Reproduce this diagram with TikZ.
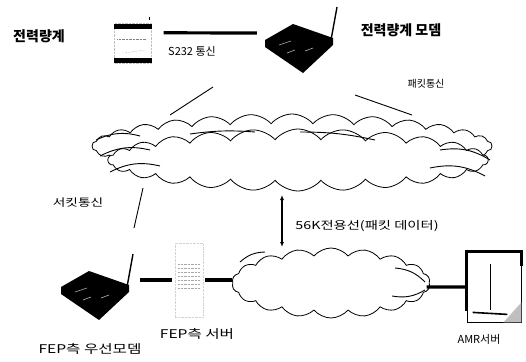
\documentclass[tikz,border=0pt]{standalone}
\usepackage{fontspec}
\newfontfamily\kr{Noto Sans CJK KR}
\newfontfamily\krw[FakeStretch=1.3]{Noto Sans CJK KR}
\usetikzlibrary{shapes.symbols,arrows.meta}

\tikzset{
  net/.style={cloud, draw, cloud puffs=#1, cloud puff arc=100, line width=0.8pt, inner sep=0pt},
  link/.style={line width=3.2pt},
  wire/.style={line width=0.9pt},
  lbl/.style={font=\kr\fontsize{#1}{#1}\selectfont, inner sep=0pt},
  lbl/.default=12,
  wlbl/.style={font=\krw\fontsize{#1}{#1}\selectfont, inner sep=0pt},
  blbl/.style={font=\kr\bfseries\fontsize{#1}{#1}\selectfont, inner sep=0pt},
  box/.style={minimum width=#1, inner sep=0pt},
  modem/.pic={
    \fill (-34,-5) -- (-6,-21) -- (34,-7) -- (34,0) -- (4,28) -- (-34,2) -- cycle;
    \draw[gray!60, line width=0.6pt] (-20,0) -- (-8,-4) (6,6) -- (14,3) (-12,8) -- (-4,5);
    \draw[line width=1.4pt] (32,-5) -- (38,-38);
  }
}

\begin{document}
\begin{tikzpicture}[x=1pt,y=-1pt]
\useasboundingbox (0,0) rectangle (526,361);

% packet network
\node[net=30, aspect=5.8, minimum width=400pt, minimum height=64pt] (bignet) at (292,146) {};
\node[net=26, aspect=5.8, minimum width=380pt, minimum height=62pt, fill=white] (bignet2) at (298,160) {};
\draw[wire] (96,140) to[bend left=20] (140,136);
\draw[wire] (100,156) to[bend left=20] (150,150);
\draw[wire] (110,172) to[bend left=20] (160,166);
\draw[wire] (440,150) to[bend left=20] (490,160);
\draw[wire] (430,168) to[bend left=20] (485,176);
\draw[wire] (300,132) to[bend left=6] (375,140);
\draw[wire] (190,134) to[bend left=6] (255,132);

% dedicated line network
\node[net=18, aspect=2.7, minimum width=198pt, minimum height=70pt] (lan) at (331,283) {};
\draw[wire] (395,268) to[bend left=20] (425,282);
\draw[wire] (392,296) to[bend right=20] (425,290);
\draw[wire] (240,262) to[bend left=20] (265,252);

% meter
\node[box=37pt, minimum height=40pt, draw=gray!50, densely dotted] (meter) at (133,43) {};
\fill ([yshift=-1pt]meter.north west) rectangle ([yshift=-6pt]meter.north east);
\fill ([yshift=5pt]meter.south west) rectangle (meter.south east);
\draw[gray, densely dotted] ([yshift=-16pt,xshift=3pt]meter.north west) -- ([yshift=-16pt,xshift=-6pt]meter.north east);
\draw[gray, densely dotted] ([yshift=10pt,xshift=8pt]meter.south west) -- ([yshift=13pt,xshift=-8pt]meter.south east);
\draw[line width=0.6pt] ([xshift=-2pt,yshift=6pt]meter.north east) -- ++(0,3);

% modems
\node[box=68pt, minimum height=50pt] (topmodem) at (299,45) {};
\pic at (topmodem) {modem};
\node[box=66pt, minimum height=50pt] (fepmodem) at (95,292) {};
\pic at (fepmodem) {modem};

% FEP server
\node[box=28pt, minimum height=74pt, draw=gray!35, densely dotted] (fepsrv) at (189,280) {};
\foreach \yy in {-8,-4,0,4,8,12,16} {
  \draw[gray!70, densely dotted] ([xshift=-11pt,yshift=\yy pt]fepsrv.center) -- ([xshift=11pt,yshift=\yy pt]fepsrv.center);
}

% AMR server
\node[box=54pt, minimum height=70pt, draw, line width=0.8pt] (amr) at (494,287) {};
\draw[line width=2.4pt] ([yshift=-24pt]amr.west) -- (amr.north west) -- (amr.north east) -- ([yshift=-14pt]amr.north east);
\draw[line width=0.8pt] ([xshift=-4pt,yshift=-12pt]amr.north) -- ([xshift=-4pt,yshift=12pt]amr.south);
\draw[line width=1.6pt] ([xshift=6pt,yshift=10pt]amr.south west) -- ([xshift=-14pt,yshift=8pt]amr.south east);
\fill[gray!50] (amr.south east) -- ([yshift=20pt]amr.south east) -- ([xshift=-18pt]amr.south east) -- cycle;

% links
\draw[link] ([xshift=12pt,yshift=-10pt]meter.north east) -- ([xshift=-8pt,yshift=12pt]topmodem.west);
\draw[link] ([xshift=12pt]fepmodem.east |- fepsrv.west) -- ([xshift=-3pt]fepsrv.west);
\draw[link] ([xshift=2pt]fepsrv.east) -- (lan.west |- fepsrv.east);
\draw[link] ([xshift=-3pt,yshift=-4pt]lan.east) -- (amr.west);

\coordinate (pkl1) at (213,87);
\coordinate (pkl2) at (170,115);
\coordinate (pkr1) at (355,95);
\coordinate (pkr2) at (412,115);
\coordinate (ckt1) at (143,188);
\coordinate (ckt2) at (134,228);
\draw[wire] (pkl1) -- (pkl2);
\draw[wire] (pkr1) -- (pkr2);
\draw[wire] (ckt1) -- (ckt2);

\coordinate (ln1) at (282,195);
\coordinate (ln2) at (282,247);
\draw[{Latex[length=5pt,width=4pt]}-{Latex[length=5pt,width=4pt]}, line width=1.2pt] (ln1) -- (ln2);

% labels
\node[blbl=14] (meterlbl) at (39,36) {전력량계};
\node[lbl=11] (rslbl) at (192,51) {S232 통신};
\node[blbl=14] (modemlbl) at (401,30) {전력량계 모뎀};
\node[lbl=10] (pktlbl) at (426,84) {패킷통신};
\node[wlbl=10.5] (cktlbl) at (78,203) {서킷통신};
\node[wlbl=11] (linelbl) at (367,226) {56K전용선(패킷 데이터)};
\node[wlbl=12] (fepmlbl) at (90,349) {FEP측 우선모뎀};
\node[wlbl=12] (fepslbl) at (197,334) {FEP측 서버};
\node[lbl=11] (amrlbl) at (479,339) {AMR서버};
\end{tikzpicture}
\end{document}
